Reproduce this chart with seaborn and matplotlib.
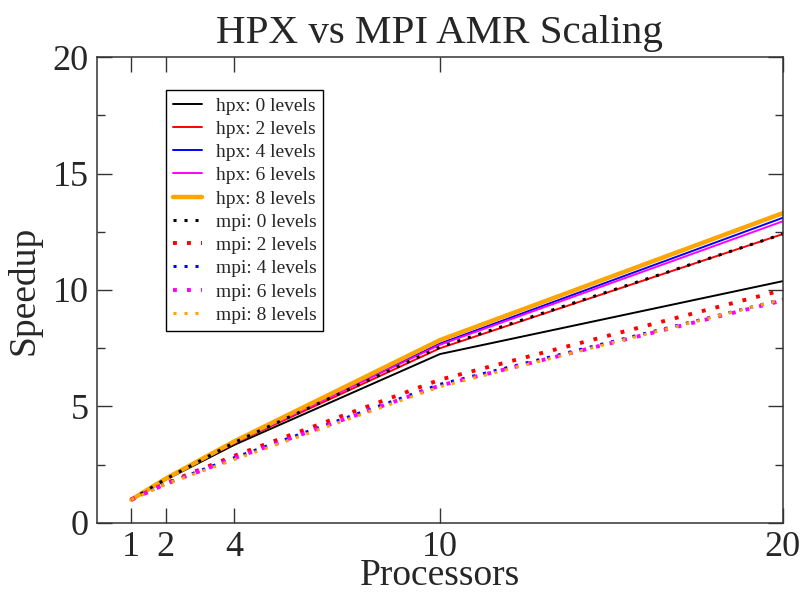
import matplotlib
matplotlib.use('Agg')
import matplotlib.pyplot as plt
import seaborn as sns
import pandas as pd

# processor counts and measured speedups
processors = [1, 2, 4, 10, 20]

hpx_0 = [1.0, 1.85, 3.35, 7.25, 10.38]
hpx_2 = [1.0, 1.87, 3.42, 7.50, 12.40]
hpx_4 = [1.0, 1.88, 3.45, 7.70, 13.10]
hpx_6 = [1.0, 1.88, 3.44, 7.65, 12.95]
hpx_8 = [1.0, 1.90, 3.50, 7.85, 13.30]

mpi_0 = [1.0, 1.88, 3.45, 7.55, 12.40]
mpi_2 = [1.0, 1.70, 2.88, 6.15, 10.00]
mpi_4 = [1.0, 1.68, 2.80, 5.95, 9.60]
mpi_6 = [1.0, 1.67, 2.78, 5.90, 9.55]
mpi_8 = [1.0, 1.66, 2.72, 5.85, 9.60]

labels = ['hpx: 0 levels', 'hpx: 2 levels', 'hpx: 4 levels', 'hpx: 6 levels', 'hpx: 8 levels',
          'mpi: 0 levels', 'mpi: 2 levels', 'mpi: 4 levels', 'mpi: 6 levels', 'mpi: 8 levels']
series = [hpx_0, hpx_2, hpx_4, hpx_6, hpx_8, mpi_0, mpi_2, mpi_4, mpi_6, mpi_8]
colors = ['black', '#ff0000', '#0000ff', '#ff00ff', '#ffa500'] * 2
widths = [1.4, 1.4, 1.4, 1.4, 3.2, 2.2, 2.8, 2.2, 2.8, 2.2]

sns.set_style('ticks')
plt.rcParams['font.family'] = ['Liberation Serif', 'DejaVu Serif']

fig = plt.figure(figsize=(8.05, 5.97), dpi=100)
ax = fig.add_axes([0.1205, 0.124, 0.852, 0.7805])

for i, (vals, lab) in enumerate(zip(series, labels)):
    df = pd.DataFrame({'Processors': processors, 'Speedup': vals})
    if lab.startswith('hpx'):
        ls = '-'
    else:
        ls = (0, (1, 2.6))
    sns.lineplot(data=df, x='Processors', y='Speedup', ax=ax, color=colors[i],
                 linewidth=widths[i], linestyle=ls, label=lab, sort=False)

ax.set_xlim(0, 20)
ax.set_ylim(0, 20)
ax.set_xticks([1, 2, 4, 10, 20])
ax.set_yticks([0, 5, 10, 15, 20])
ax.set_yticks([2.5, 7.5, 12.5, 17.5], minor=True)
ax.tick_params(axis='both', which='major', direction='in', length=11, width=1,
               labelsize=26, top=True, right=True, pad=6, color='#333333')
ax.tick_params(axis='y', which='minor', direction='in', length=6, width=1,
               left=True, right=True, color='#333333')
for sp in ax.spines.values():
    sp.set_color('#333333')
    sp.set_linewidth(1.1)

ax.set_title('HPX vs MPI AMR Scaling', fontsize=29.5, pad=10)
ax.set_xlabel('Processors', fontsize=27, labelpad=-4)
ax.set_ylabel('Speedup', fontsize=27, labelpad=8)

leg = ax.legend(loc='upper left', bbox_to_anchor=(0.1006, 0.929), borderaxespad=0,
                fontsize=14, frameon=True, fancybox=False, edgecolor='black',
                framealpha=1, labelspacing=0.29, handlelength=1.5,
                handletextpad=0.7, borderpad=0.35)
leg.get_frame().set_linewidth(1.0)

fig.savefig('out.png', dpi=100)
